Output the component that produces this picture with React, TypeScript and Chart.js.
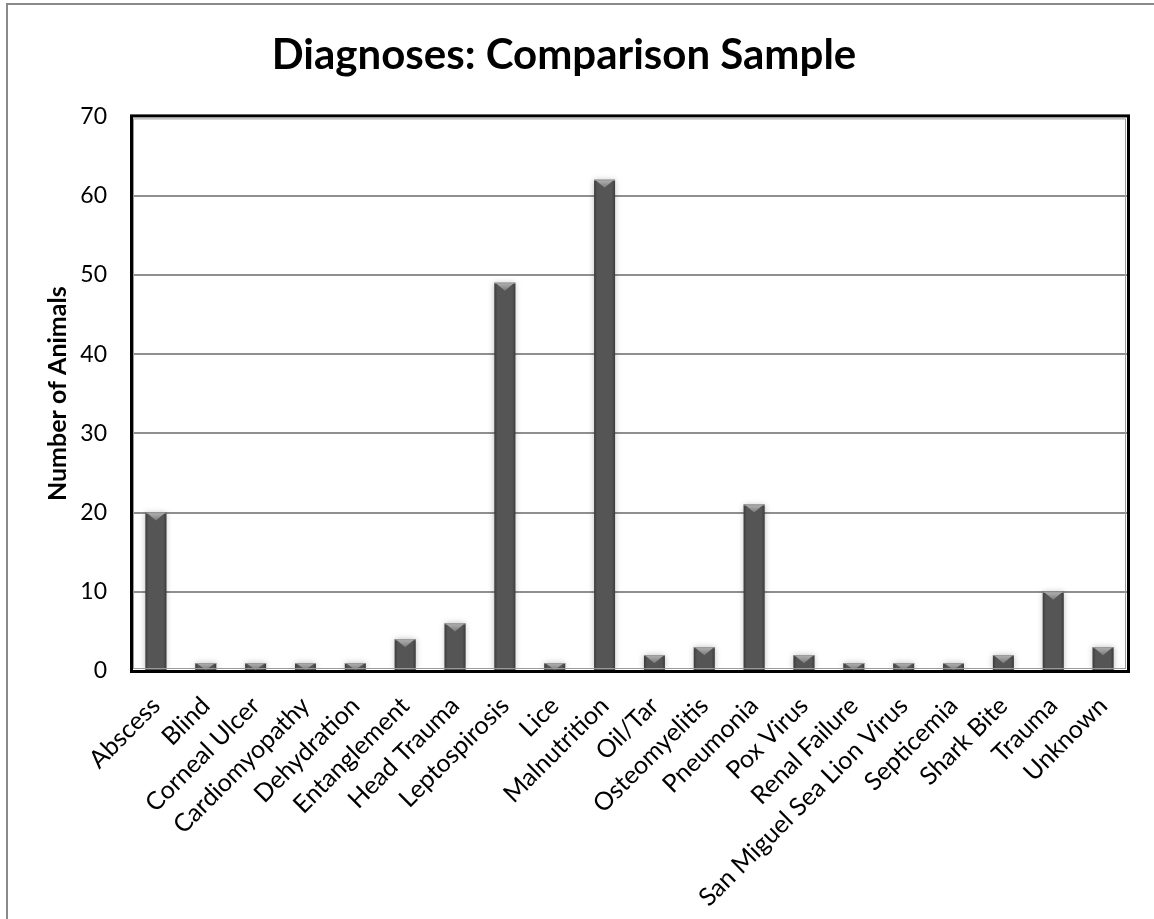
import React, { useEffect, useRef } from "react";
import { Chart, registerables } from "chart.js";

Chart.register(...registerables);

const categories = [
  "Abscess", "Blind", "Corneal Ulcer", "Cardiomyopathy", "Dehydration",
  "Entanglement", "Head Trauma", "Leptospirosis", "Lice", "Malnutrition",
  "Oil/Tar", "Osteomyelitis", "Pneumonia", "Pox Virus", "Renal Failure",
  "San Miguel Sea Lion Virus", "Septicemia", "Shark Bite", "Trauma", "Unknown",
];
const animalCounts = [20, 1, 1, 1, 1, 4, 6, 49, 1, 62, 2, 3, 21, 2, 1, 1, 1, 2, 10, 3];
const yTicks = [0, 10, 20, 30, 40, 50, 60, 70];

const titleText = "Diagnoses: Comparison Sample";
const yAxisTitle = "Number of Animals";

const FONT = "Lato, 'Open Sans', sans-serif";

const decorPlugin = {
  id: "decor",
  beforeDraw(chart: any) {
    const ctx = chart.ctx;
    ctx.save();
    ctx.fillStyle = "#ffffff";
    ctx.fillRect(0, 0, chart.width, chart.height);
    ctx.strokeStyle = "#8a8a8a";
    ctx.lineWidth = 2;
    ctx.strokeRect(7, 4, chart.width + 20, chart.height + 20);
    ctx.restore();
  },
  beforeDatasetsDraw(chart: any) {
    const ctx = chart.ctx;
    ctx.save();
    ctx.shadowColor = "rgba(0,0,0,0.25)";
    ctx.shadowBlur = 6;
    ctx.shadowOffsetX = 0;
    ctx.shadowOffsetY = 0;
  },
  afterDatasetsDraw(chart: any) {
    const ctx = chart.ctx;
    ctx.restore();
    ctx.save();
    const meta = chart.getDatasetMeta(0);
    meta.data.forEach((bar: any) => {
      const p = bar.getProps(["x", "y", "base", "width"], true);
      const l = p.x - p.width / 2;
      const r = p.x + p.width / 2;
      const t = p.y;
      const b = p.base;
      const h = b - t;
      const g = ctx.createLinearGradient(l, 0, r, 0);
      g.addColorStop(0, "rgba(40,40,40,0.55)");
      g.addColorStop(0.15, "rgba(40,40,40,0)");
      g.addColorStop(0.85, "rgba(40,40,40,0)");
      g.addColorStop(1, "rgba(40,40,40,0.55)");
      ctx.fillStyle = g;
      ctx.fillRect(l, t, p.width, h);
      const capH = Math.min(8, h);
      ctx.beginPath();
      ctx.moveTo(l + 1, t);
      ctx.lineTo(r - 1, t);
      ctx.lineTo(p.x, t + capH);
      ctx.closePath();
      const cg = ctx.createLinearGradient(0, t, 0, t + capH);
      cg.addColorStop(0, "#b4b4b4");
      cg.addColorStop(1, "#7a7a7a");
      ctx.fillStyle = cg;
      ctx.fill();
      ctx.fillStyle = "#9a9a9a";
      ctx.fillRect(l, t, p.width, 1);
    });
    const a = chart.chartArea;
    ctx.strokeStyle = "#9a9a9a";
    ctx.lineWidth = 1;
    ctx.strokeRect(a.left + 2.5, a.top + 2.5, a.right - a.left - 5, a.bottom - a.top - 5);
    ctx.strokeStyle = "#000000";
    ctx.lineWidth = 3;
    ctx.strokeRect(a.left + 0.5, a.top - 0.5, a.right - a.left, a.bottom - a.top + 1);
    ctx.restore();
  },
};

export default function App() {
  const ref = useRef<HTMLCanvasElement | null>(null);
  useEffect(() => {
    document.body.style.margin = "0";
    let chart: Chart | null = null;
    let cancelled = false;
    const make = () => {
      if (cancelled || !ref.current) return;
      chart = new Chart(ref.current, {
        type: "bar",
        data: {
          labels: categories,
          datasets: [
            {
              data: animalCounts,
              backgroundColor: "#555555",
              borderWidth: 0,
              barPercentage: 0.84,
              categoryPercentage: 0.5,
            },
          ],
        },
        options: {
          animation: false,
          responsive: false,
          layout: { padding: { left: 0, right: 26, top: 0, bottom: 0 } },
          plugins: {
            legend: { display: false },
            tooltip: { enabled: false },
            title: {
              display: true,
              text: titleText,
              color: "#000000",
              font: { family: FONT, size: 42, weight: "bold", lineHeight: 1.2 },
              padding: { top: 30, bottom: 36 },
            },
          },
          scales: {
            x: {
              grid: { display: false },
              border: { display: false },
              ticks: {
                color: "#000000",
                font: { family: FONT, size: 25 },
                minRotation: 45,
                maxRotation: 45,
                autoSkip: false,
                padding: 12,
              },
              afterFit: (s: any) => {
                s.height = 248;
              },
            },
            y: {
              min: 0,
              max: 70,
              afterBuildTicks: (s: any) => {
                s.ticks = yTicks.map((v) => ({ value: v }));
              },
              grid: { color: "#8f8f8f", lineWidth: 2, drawTicks: false },
              border: { display: false },
              ticks: {
                color: "#000000",
                font: { family: FONT, size: 23 },
                padding: 24,
              },
              title: {
                display: true,
                text: yAxisTitle,
                color: "#000000",
                font: { family: FONT, size: 25, weight: "bold", lineHeight: 1.2 },
                padding: { top: 43, bottom: 0 },
              },
              afterFit: (s: any) => {
                s.width = 131;
              },
            },
          },
        },
        plugins: [decorPlugin],
      });
    };
    const fonts: any = (document as any).fonts;
    if (fonts && fonts.load) {
      Promise.all([
        fonts.load("bold 42px Lato"),
        fonts.load("23px Lato"),
      ]).then(make, make);
    } else {
      make();
    }
    return () => {
      cancelled = true;
      if (chart) chart.destroy();
    };
  }, []);
  return <canvas ref={ref} width={1154} height={919} style={{ display: "block", width: 1154, height: 919 }} />;
}
